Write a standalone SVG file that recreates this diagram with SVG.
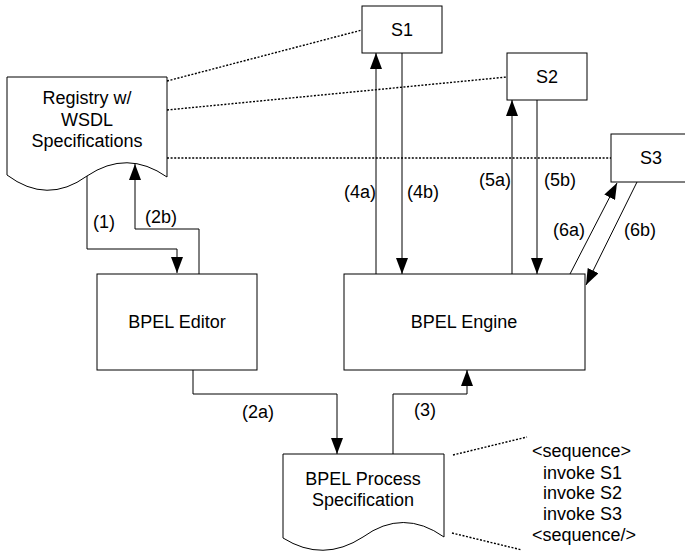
<svg xmlns="http://www.w3.org/2000/svg" width="685" height="554" viewBox="0 0 685 554">
<style>
.shape{fill:#fff;stroke:#000;stroke-width:1}
.t{font-family:"Liberation Sans",Arial,sans-serif;font-size:18px;fill:#000}
.c{text-anchor:middle}
.ln{fill:none;stroke:#000;stroke-width:1}
.dot{fill:none;stroke:#000;stroke-width:1.4;stroke-dasharray:2,1.6}
</style>
<defs>
<marker id="ah" markerUnits="userSpaceOnUse" markerWidth="16" markerHeight="12" refX="16" refY="6" orient="auto">
<path d="M0,0 L16,6 L0,12 Z" fill="#000"/>
</marker>
</defs>
<rect width="685" height="554" fill="#fff"/>
<g id="dotted">
<path class="dot" d="M167,81 L362,30"/>
<path class="dot" d="M167,110 L507,77"/>
<path class="dot" d="M167,158 L611,158"/>
<path class="dot" d="M453,455 L527,437"/>
<path class="dot" d="M452,533 L522,550"/>
</g>
<g id="registry">
<path class="shape" d="M7,77 H167 V177 Q127,149 87,176 Q47,205 7,175 Z"/>
<text class="t c" x="87" y="104">Registry w/</text>
<text class="t c" x="87" y="126">WSDL</text>
<text class="t c" x="87" y="147">Specifications</text>
</g>
<g id="s1">
<rect class="shape" x="362" y="6" width="80" height="47"/>
<text class="t c" x="402" y="36">S1</text>
</g>
<g id="s2">
<rect class="shape" x="507" y="53" width="80" height="47"/>
<text class="t c" x="547" y="83">S2</text>
</g>
<g id="s3">
<rect class="shape" x="611" y="134" width="80" height="48"/>
<text class="t c" x="651" y="164">S3</text>
</g>
<g id="editor">
<rect class="shape" x="97" y="274" width="160" height="96"/>
<text class="t c" x="177" y="328">BPEL Editor</text>
</g>
<g id="engine">
<rect class="shape" x="344" y="274" width="241" height="96"/>
<text class="t c" x="464" y="328">BPEL Engine</text>
</g>
<g id="process">
<path class="shape" d="M283,454 H444 V537 Q403,508 363,537 Q323,563 283,538 Z"/>
<text class="t c" x="363" y="485">BPEL Process</text>
<text class="t c" x="363" y="506">Specification</text>
</g>
<g id="code">
<text class="t" x="532" y="457">&lt;sequence&gt;</text>
<text class="t" x="543" y="479">invoke S1</text>
<text class="t" x="543" y="499">invoke S2</text>
<text class="t" x="543" y="520">invoke S3</text>
<text class="t" x="532" y="541">&lt;sequence/&gt;</text>
</g>
<g id="connectors">
<path class="ln" marker-end="url(#ah)" d="M87,176 V249 H177 V273"/>
<path class="ln" marker-end="url(#ah)" d="M199,274 V229 H135 V164"/>
<path class="ln" marker-end="url(#ah)" d="M193,370 V394 H337 V454"/>
<path class="ln" marker-end="url(#ah)" d="M393,454 V394 H467 V370"/>
<path class="ln" marker-end="url(#ah)" d="M376,274 V53"/>
<path class="ln" marker-end="url(#ah)" d="M402,53 V274"/>
<path class="ln" marker-end="url(#ah)" d="M512,274 V100"/>
<path class="ln" marker-end="url(#ah)" d="M537,100 V274"/>
<path class="ln" marker-end="url(#ah)" d="M570,274 L617,183"/>
<path class="ln" marker-end="url(#ah)" d="M637,182 L586,285"/>
<text class="t" x="93" y="228">(1)</text>
<text class="t" x="145" y="223">(2b)</text>
<text class="t" x="242" y="418">(2a)</text>
<text class="t" x="414" y="416">(3)</text>
<text class="t" x="344" y="198">(4a)</text>
<text class="t" x="407" y="198">(4b)</text>
<text class="t" x="479" y="186">(5a)</text>
<text class="t" x="544" y="186">(5b)</text>
<text class="t" x="553" y="236">(6a)</text>
<text class="t" x="624" y="236">(6b)</text>
</g>
</svg>
